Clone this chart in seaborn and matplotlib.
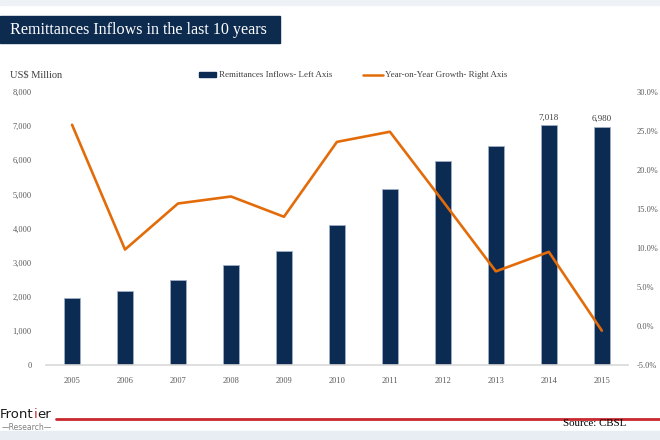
import numpy as np
import pandas as pd
import matplotlib
matplotlib.use('Agg')
import matplotlib.pyplot as plt
import seaborn as sns

# chart data
years = ['2005', '2006', '2007', '2008', '2009', '2010', '2011', '2012', '2013', '2014', '2015']
inflows = [1968, 2167, 2502, 2918, 3330, 4116, 5145, 5985, 6407, 7018, 6980]
growth = [25.8, 9.8, 15.7, 16.6, 14.0, 23.6, 24.9, 16.0, 7.0, 9.5, -0.6]
left_ticks = [0, 1000, 2000, 3000, 4000, 5000, 6000, 7000, 8000]
right_ticks = [-5, 0, 5, 10, 15, 20, 25, 30]
labelled_years = ['2014', '2015']

navy = '#0c2b52'
orange = '#e36c0a'
serif = ['Liberation Serif', 'DejaVu Serif']

sns.set_theme(style='white')
plt.rcParams['font.family'] = serif

df = pd.DataFrame({'year': years, 'inflows': inflows, 'growth': growth})

fig = plt.figure(figsize=(6.6, 4.4), dpi=100)
ax = fig.add_axes([0.069, 0.1705, 0.883, 0.6205])

sns.barplot(data=df, x='year', y='inflows', color=navy, width=0.3,
            edgecolor='#9fb0c6', linewidth=0.6, saturation=1, ax=ax)
ax.set_xlim(-0.5, len(years) - 0.5)
ax.set_ylim(0, 8000)
ax.set_yticks(left_ticks)
ax.set_yticklabels([f'{v:,}' for v in left_ticks])
ax.set_xlabel('')
ax.set_ylabel('')
for s in ['top', 'right', 'left']:
    ax.spines[s].set_visible(False)
ax.spines['bottom'].set_color('#d9d9d9')
ax.spines['bottom'].set_linewidth(1.2)
ax.tick_params(axis='both', length=0, labelsize=6, colors='#595959')
ax.tick_params(axis='x', pad=9)
ax.tick_params(axis='y', pad=10)

# value labels on the last two bars
for i, (yr, v) in enumerate(zip(years, inflows)):
    if yr in labelled_years:
        ax.text(i, v + 120, f'{v:,}', ha='center', va='bottom', fontsize=6.5, color='#404040')

ax2 = ax.twinx()
sns.lineplot(x=np.arange(len(years)), y=growth, color=orange, linewidth=1.9, ax=ax2)
ax2.set_ylim(-5, 30)
ax2.set_yticks(right_ticks)
ax2.set_yticklabels([f'{v:.1f}%' for v in right_ticks])
for s in ['top', 'right', 'left', 'bottom']:
    ax2.spines[s].set_visible(False)
ax2.tick_params(axis='y', length=0, labelsize=6, colors='#595959', pad=6)

# legend drawn by hand above the plot
lg = fig.add_axes([0, 0, 1, 1], facecolor='none')
lg.set_xlim(0, 660)
lg.set_ylim(440, 0)
lg.axis('off')
lg.add_patch(plt.Rectangle((199, 72.5), 17, 5, color=navy))
lg.text(219, 75, 'Remittances Inflows- Left Axis', fontsize=6.5, va='center', color='#404040')
lg.plot([363, 383], [75, 75], color=orange, linewidth=1.8)
lg.text(385, 75, 'Year-on-Year Growth- Right Axis', fontsize=6.5, va='center', color='#404040')
lg.text(10, 75, 'US$ Million', fontsize=7.5, va='center', color='#404040')

# top and bottom strips
lg.add_patch(plt.Rectangle((0, 0), 660, 5, color='#eef2f7'))
lg.add_patch(plt.Rectangle((0, 431), 660, 9, color='#e8edf3'))

# title box
lg.add_patch(plt.Rectangle((0, 16), 280, 27, color='#0d2a4f'))
lg.text(10, 30, 'Remittances Inflows in the last 10 years', fontsize=11.6, color='white',
        va='center')

# footer
lg.plot([56, 660], [419, 419], color='#c8282d', linewidth=2)
lg.text(563, 424, 'Source: CBSL', fontsize=7.8, va='center', color='black')
sans = ['DejaVu Sans']
t1 = lg.text(0, 414, 'Front', fontsize=9.5, va='center', color='#1a1a1a', family=sans)
fig.canvas.draw()
bb = t1.get_window_extent().transformed(lg.transData.inverted())
t2 = lg.text(bb.x1, 414, 'i', fontsize=9.5, va='center', color='#c8282d', family=sans)
fig.canvas.draw()
bb = t2.get_window_extent().transformed(lg.transData.inverted())
lg.text(bb.x1, 414, 'er', fontsize=9.5, va='center', color='#1a1a1a', family=sans)
lg.text(2, 428, '\u2014Research\u2014', fontsize=5.5, va='center', color='#808080', family=sans)

fig.savefig('out.png', dpi=100)
